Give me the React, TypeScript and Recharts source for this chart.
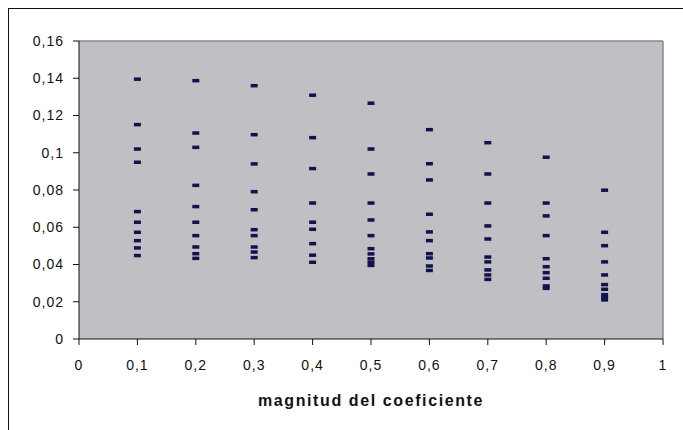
import { ScatterChart, Scatter, XAxis, YAxis, CartesianGrid, ReferenceLine, Label } from 'recharts'

// magnitud del coeficiente (x positions of the columns)
const magnitudes = [0.1, 0.2, 0.3, 0.4, 0.5, 0.6, 0.7, 0.8, 0.9]

// values read per column
const valuesAt01 = [0.1395, 0.1151, 0.102, 0.0949, 0.0684, 0.0627, 0.0573, 0.0528, 0.0489, 0.0448]
const valuesAt02 = [0.1387, 0.1106, 0.1029, 0.0825, 0.0711, 0.0627, 0.0555, 0.0494, 0.0458, 0.0433]
const valuesAt03 = [0.136, 0.1097, 0.094, 0.0791, 0.0694, 0.0587, 0.0555, 0.0494, 0.0467, 0.0437]
const valuesAt04 = [0.1309, 0.1081, 0.0915, 0.073, 0.0627, 0.0589, 0.0512, 0.045, 0.0412]
const valuesAt05 = [0.1266, 0.102, 0.0886, 0.073, 0.0639, 0.0555, 0.0485, 0.0457, 0.0431, 0.0412, 0.0395]
const valuesAt06 = [0.1124, 0.0941, 0.0854, 0.067, 0.0575, 0.0528, 0.0458, 0.0435, 0.0392, 0.0368]
const valuesAt07 = [0.1054, 0.0886, 0.073, 0.0607, 0.0537, 0.044, 0.0414, 0.0371, 0.0344, 0.032]
const valuesAt08 = [0.0976, 0.073, 0.0661, 0.0555, 0.0431, 0.0388, 0.0356, 0.0326, 0.0285, 0.0272]
const valuesAt09 = [0.0799, 0.0573, 0.0501, 0.0414, 0.0344, 0.0292, 0.0267, 0.0238, 0.0222, 0.021]

const columns = [valuesAt01, valuesAt02, valuesAt03, valuesAt04, valuesAt05, valuesAt06, valuesAt07, valuesAt08, valuesAt09]

const xTicks = [0, 0.1, 0.2, 0.3, 0.4, 0.5, 0.6, 0.7, 0.8, 0.9, 1]
const yTicks = [0, 0.02, 0.04, 0.06, 0.08, 0.1, 0.12, 0.14, 0.16]

const points = columns.flatMap((vals, i) => vals.map((y) => ({ x: magnitudes[i], y })))

const comma = (v: number) => String(v).replace('.', ',')

const Dash = (props: any) => {
  const { cx, cy } = props
  if (cx == null || cy == null) return null
  return <rect x={cx - 3.5} y={cy - 1.75} width={7} height={3.5} fill="#12124e" />
}

const tickStyle = { fontSize: 14, fill: '#111', letterSpacing: 1 }

export default function App() {
  return (
    <div
      style={{
        position: 'fixed',
        left: 0,
        top: 0,
        width: 683,
        height: 430,
        background: '#fff',
        fontFamily: 'Arial, "Liberation Sans", sans-serif',
        overflow: 'hidden',
      }}
    >
      <div
        style={{
          position: 'absolute',
          left: 8,
          top: 8,
          width: 700,
          height: 450,
          borderTop: '1.5px solid #111',
          borderLeft: '1.5px solid #111',
        }}
      />
      <ScatterChart
        width={683}
        height={430}
        margin={{ top: 41, right: 20, bottom: 24, left: 0 }}
        style={{ position: 'absolute', left: 0, top: 0 }}
      >
        <CartesianGrid horizontal={false} vertical={false} fill="#c0c0c4" />
        <XAxis
          type="number"
          dataKey="x"
          domain={[0, 1]}
          ticks={xTicks}
          tickFormatter={comma}
          height={67}
          tickSize={6}
          tickMargin={15}
          stroke="#111"
          tick={tickStyle}
          interval={0}
        >
          <Label
            value="magnitud del coeficiente"
            position="insideBottom"
            offset={0}
            style={{ fontSize: 16, fontWeight: 'bold', fill: '#111', letterSpacing: 1.6 }}
          />
        </XAxis>
        <YAxis
          type="number"
          dataKey="y"
          domain={[0, 0.16]}
          ticks={yTicks}
          tickFormatter={comma}
          width={79}
          tickSize={6}
          tickMargin={9}
          stroke="#111"
          tick={tickStyle}
          interval={0}
        />
        <ReferenceLine y={0.16} stroke="#86869a" strokeWidth={1.5} />
        <ReferenceLine x={1} stroke="#86869a" strokeWidth={1.5} />
        <Scatter data={points} shape={Dash} isAnimationActive={false} />
      </ScatterChart>
    </div>
  )
}
